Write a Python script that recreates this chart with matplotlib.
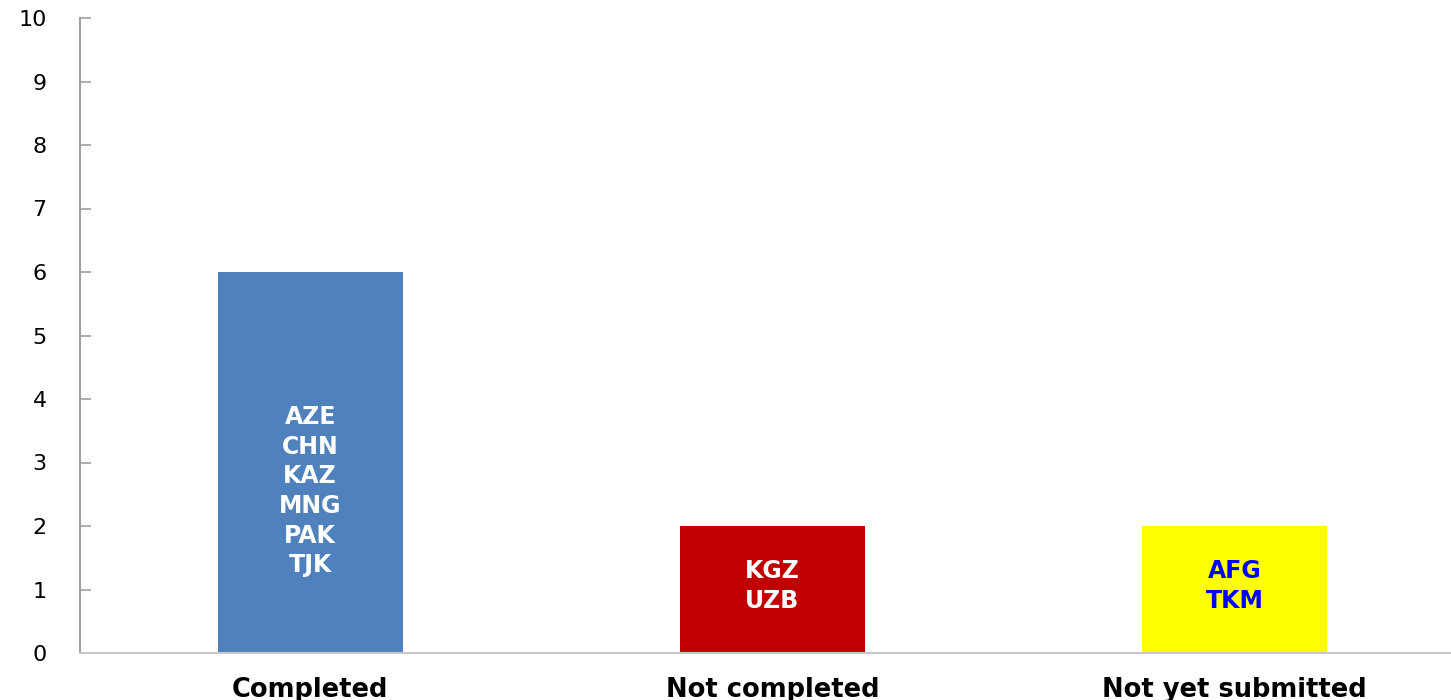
import matplotlib.pyplot as plt

# status counts per category
categories = ["Completed", "Not completed", "Not yet submitted"]
counts = [6, 2, 2]
members = [["AZE", "CHN", "KAZ", "MNG", "PAK", "TJK"],
           ["KGZ", "UZB"],
           ["AFG", "TKM"]]
yticks = list(range(0, 11))

bar_colors = ["#4F81BD", "#C00000", "#FFFF00"]
text_colors = ["white", "white", "#0000FF"]
label_y = [2.55, 1.05, 1.05]

fig = plt.figure(figsize=(14.51, 7), dpi=100)
ax = fig.add_axes([80 / 1451, 47 / 700, 1 - 80 / 1451, 635 / 700])

x = list(range(len(categories)))
ax.bar(x, counts, width=0.4, color=bar_colors)

for i in x:
    ax.text(i, label_y[i], "\n".join(members[i]), ha="center", va="center",
            color=text_colors[i], fontsize=17, fontweight="bold", linespacing=1.3)

ax.set_xlim(-0.498, 2.468)
ax.set_ylim(0, 10)
ax.set_yticks(yticks)
ax.set_xticks(x)
ax.set_xticklabels(categories, fontsize=18.5, fontweight="bold")

ax.tick_params(axis="y", direction="in", length=8, width=1.2, color="#a0a0a0",
               labelsize=16, pad=24)
ax.tick_params(axis="x", length=0, pad=17)

for s in ["top", "right"]:
    ax.spines[s].set_visible(False)
ax.spines["left"].set_color("#a0a0a0")
ax.spines["left"].set_linewidth(1.5)
ax.spines["bottom"].set_color("#c8c8c8")
ax.spines["bottom"].set_linewidth(1.5)

fig.savefig("out.png", dpi=100)
